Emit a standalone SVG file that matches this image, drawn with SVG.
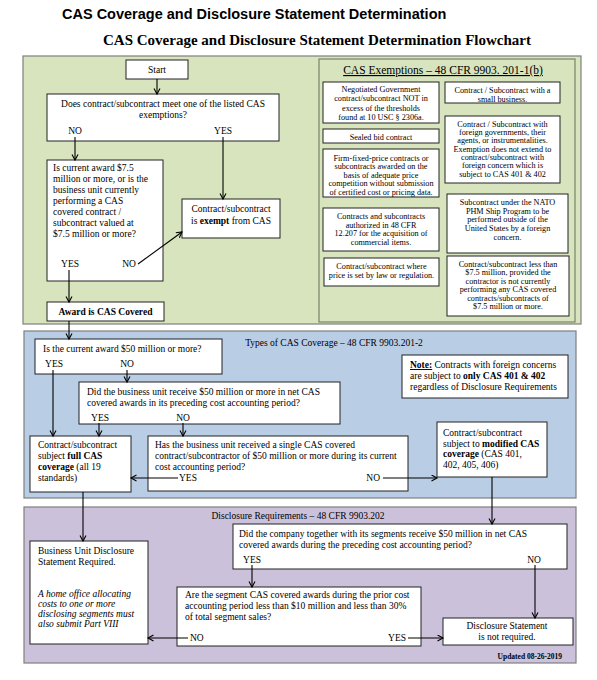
<svg xmlns="http://www.w3.org/2000/svg" width="597" height="680" viewBox="0 0 597 680">
<defs>
<marker id="arr" markerUnits="userSpaceOnUse" markerWidth="8" markerHeight="8" refX="6" refY="3.5" orient="auto">
<path d="M0.5,0.5 L6,3.5 L0.5,6.5" fill="none" stroke="#000" stroke-width="1.1"/>
</marker>
<style>
.t1{font-family:"Liberation Sans",Arial,sans-serif;font-weight:bold;font-size:14.5px;fill:#000}
.t2{font-family:"Liberation Serif","Times New Roman",serif;font-weight:bold;font-size:15px;fill:#000}
.tx{font-family:"Liberation Serif","Times New Roman",serif;font-size:9.5px;fill:#000}
.ex{font-family:"Liberation Serif","Times New Roman",serif;font-size:8.2px;fill:#000;text-anchor:middle}
.c{text-anchor:middle}
.e{text-anchor:end}
.b{font-weight:bold}
.i{font-style:italic}
.box{fill:#fff;stroke:#222;stroke-width:1}
.green{fill:#d7e4bd;stroke:#7f7f7f;stroke-width:1.2}
.inner{fill:#d7e4bd;stroke:#7a8468;stroke-width:1.2}
.blue{fill:#b9cde5;stroke:#7f7f7f;stroke-width:1.2}
.purple{fill:#ccc1da;stroke:#7f7f7f;stroke-width:1.2}
.con{fill:none;stroke:#000;stroke-width:1.1;marker-end:url(#arr)}
</style>
</defs>
<rect width="597" height="680" fill="#fff"/>
<text class="t1" x="62" y="19">CAS Coverage and Disclosure Statement Determination</text>
<text class="t2 c" x="317" y="45">CAS Coverage and Disclosure Statement Determination Flowchart</text>

<g id="panel-green"><rect class="green" x="23" y="56" width="558" height="268"/></g>
<g id="panel-exemptions">
<rect class="inner" x="319" y="59" width="256" height="263"/>
<text class="tx c" x="443" y="74" style="font-size:11.5px" text-decoration="underline">CAS Exemptions – 48 CFR 9903. 201-1(b)</text>
</g>
<g id="panel-blue">
<rect class="blue" x="24" y="331" width="552" height="167"/>
<text class="tx c" x="334" y="346">Types of CAS Coverage – 48 CFR 9903.201-2</text>
</g>
<g id="panel-purple">
<rect class="purple" x="24" y="507" width="552" height="156"/>
<text class="tx c" x="298" y="519">Disclosure Requirements – 48 CFR 9903.202</text>
<text class="tx e b" x="562" y="659" style="font-size:7.5px">Updated 08-26-2019</text>
</g>

<g id="start"><rect class="box" x="126" y="60" width="62" height="19"/><text class="tx c" x="157" y="73">Start</text></g>
<g id="q1">
<rect class="box" x="47" y="94" width="232" height="47"/>
<text class="tx c" x="163" y="107">Does contract/subcontract meet one of the listed CAS</text>
<text class="tx c" x="163" y="118">exemptions?</text>
<text class="tx c" x="75" y="134">NO</text>
<text class="tx c" x="223" y="134">YES</text>
</g>
<g id="q2">
<rect class="box" x="47" y="160" width="116" height="121"/>
<text class="tx" x="53" y="171">Is current award $7.5</text>
<text class="tx" x="53" y="182">million or more, or is the</text>
<text class="tx" x="53" y="193">business unit currently</text>
<text class="tx" x="53" y="204">performing a CAS</text>
<text class="tx" x="53" y="215">covered contract /</text>
<text class="tx" x="53" y="226">subcontract valued at</text>
<text class="tx" x="53" y="237">$7.5 million or more?</text>
<text class="tx c" x="70" y="267">YES</text>
<text class="tx c" x="129" y="267">NO</text>
</g>
<g id="exempt">
<rect class="box" x="182" y="199" width="98" height="39"/>
<text class="tx c" x="231" y="212">Contract/subcontract</text>
<text class="tx c" x="231" y="224">is <tspan class="b">exempt</tspan> from CAS</text>
</g>
<g id="award">
<rect class="box" x="47" y="302" width="117" height="19"/>
<text class="tx c b" x="105.5" y="315">Award is CAS Covered</text>
</g>

<g id="ex-negotiated">
<rect class="box" x="323" y="82" width="116" height="41"/>
<text class="ex" x="381" y="91.5">Negotiated Government</text>
<text class="ex" x="381" y="101">contract/subcontract NOT in</text>
<text class="ex" x="381" y="110.5">excess of the thresholds</text>
<text class="ex" x="381" y="120">found at 10 USC § 2306a.</text>
</g>
<g id="ex-small">
<rect class="box" x="445" y="82" width="115" height="21"/>
<text class="ex" x="502.5" y="93">Contract / Subcontract with a</text>
<text class="ex" x="502.5" y="101.5">small business.</text>
</g>
<g id="ex-sealed">
<rect class="box" x="323" y="129" width="116" height="14"/>
<text class="ex" x="381" y="139.5">Sealed bid contract</text>
</g>
<g id="ex-ffp">
<rect class="box" x="323" y="149" width="116" height="48"/>
<text class="ex" x="381" y="160.5">Firm-fixed-price contracts or</text>
<text class="ex" x="381" y="169.1">subcontracts awarded on the</text>
<text class="ex" x="381" y="177.7">basis of adequate price</text>
<text class="ex" x="381" y="186.3">competition without submission</text>
<text class="ex" x="381" y="194.9">of certified cost or pricing data.</text>
</g>
<g id="ex-foreign">
<rect class="box" x="445" y="116" width="115" height="67"/>
<text class="ex" x="502.5" y="126.8">Contract / Subcontract with</text>
<text class="ex" x="502.5" y="135.1">foreign governments, their</text>
<text class="ex" x="502.5" y="143.4">agents, or instrumentalities.</text>
<text class="ex" x="502.5" y="151.7">Exemption does not extend to</text>
<text class="ex" x="502.5" y="160">contract/subcontract with</text>
<text class="ex" x="502.5" y="168.3">foreign concern which is</text>
<text class="ex" x="502.5" y="176.6">subject to CAS 401 &amp; 402</text>
</g>
<g id="ex-commercial">
<rect class="box" x="323" y="208" width="116" height="43"/>
<text class="ex" x="381" y="218.8">Contracts and subcontracts</text>
<text class="ex" x="381" y="227.5">authorized in 48 CFR</text>
<text class="ex" x="381" y="236.2">12.207 for the acquisition of</text>
<text class="ex" x="381" y="244.9">commercial items.</text>
</g>
<g id="ex-law">
<rect class="box" x="324" y="258" width="115" height="28"/>
<text class="ex" x="381.5" y="268.8">Contract/subcontract where</text>
<text class="ex" x="381.5" y="277.8">price is set by law or regulation.</text>
</g>
<g id="ex-nato">
<rect class="box" x="447" y="194" width="121" height="59"/>
<text class="ex" x="507.5" y="204.8">Subcontract under the NATO</text>
<text class="ex" x="507.5" y="213.5">PHM Ship Program to be</text>
<text class="ex" x="507.5" y="222.2">performed outside of the</text>
<text class="ex" x="507.5" y="230.9">United States by a foreign</text>
<text class="ex" x="507.5" y="239.6">concern.</text>
</g>
<g id="ex-less">
<rect class="box" x="447" y="256" width="122" height="60"/>
<text class="ex" x="508" y="266.8">Contract/subcontract less than</text>
<text class="ex" x="508" y="275.3">$7.5 million, provided the</text>
<text class="ex" x="508" y="283.8">contractor is not currently</text>
<text class="ex" x="508" y="292.3">performing any CAS covered</text>
<text class="ex" x="508" y="300.8">contracts/subcontracts of</text>
<text class="ex" x="508" y="309.3">$7.5 million or more.</text>
</g>

<g id="q3">
<rect class="box" x="35" y="339" width="187" height="35"/>
<text class="tx" x="43" y="352">Is the current award $50 million or more?</text>
<text class="tx c" x="54" y="367">YES</text>
<text class="tx c" x="127" y="367">NO</text>
</g>
<g id="q4">
<rect class="box" x="79" y="382" width="261" height="42"/>
<text class="tx" x="87" y="395">Did the business unit receive $50 million or more in net CAS</text>
<text class="tx" x="87" y="405.5">covered awards in its preceding cost accounting period?</text>
<text class="tx c" x="100" y="421">YES</text>
<text class="tx c" x="183" y="421">NO</text>
</g>
<g id="full">
<rect class="box" x="30" y="436" width="101" height="56"/>
<text class="tx" x="38" y="448">Contract/subcontract</text>
<text class="tx" x="38" y="459">subject <tspan class="b">full CAS</tspan></text>
<text class="tx" x="38" y="470"><tspan class="b">coverage</tspan> (all 19</text>
<text class="tx" x="38" y="481">standards)</text>
</g>
<g id="q5">
<rect class="box" x="148" y="436" width="260" height="55"/>
<text class="tx" x="155" y="448">Has the business unit received a single CAS covered</text>
<text class="tx" x="155" y="459">contract/subcontractor of $50 million or more during its current</text>
<text class="tx" x="155" y="470">cost accounting period?</text>
<text class="tx" x="179" y="481">YES</text>
<text class="tx e" x="380" y="481">NO</text>
</g>
<g id="modified">
<rect class="box" x="437" y="422" width="110" height="55"/>
<text class="tx" x="443" y="436">Contract/subcontract</text>
<text class="tx" x="443" y="446.5">subject to <tspan class="b">modified CAS</tspan></text>
<text class="tx" x="443" y="457"><tspan class="b">coverage</tspan> (CAS 401,</text>
<text class="tx" x="443" y="467.5">402, 405, 406)</text>
</g>
<g id="note">
<rect class="box" x="402" y="355" width="166" height="43"/>
<text class="tx" x="410" y="368"><tspan class="b" text-decoration="underline">Note:</tspan> Contracts with foreign concerns</text>
<text class="tx" x="410" y="379">are subject to <tspan class="b">only CAS 401 &amp; 402</tspan></text>
<text class="tx" x="410" y="389.5">regardless of Disclosure Requirements</text>
</g>

<g id="q6">
<rect class="box" x="233" y="524" width="334" height="45"/>
<text class="tx" x="239" y="537">Did the company together with its segments receive $50 million in net CAS</text>
<text class="tx" x="239" y="548">covered awards during the preceding cost accounting period?</text>
<text class="tx c" x="252" y="563">YES</text>
<text class="tx c" x="534" y="563">NO</text>
</g>
<g id="q7">
<rect class="box" x="177" y="587" width="244" height="59"/>
<text class="tx" x="185" y="597.5">Are the segment CAS covered awards during the prior cost</text>
<text class="tx" x="185" y="608.5">accounting period less than $10 million and less than 30%</text>
<text class="tx" x="185" y="619.5">of total segment sales?</text>
<text class="tx" x="190" y="641">NO</text>
<text class="tx e" x="406" y="641">YES</text>
</g>
<g id="bu">
<rect class="box" x="30" y="541" width="118" height="103"/>
<text class="tx" x="38" y="554">Business Unit Disclosure</text>
<text class="tx" x="38" y="564.5">Statement Required.</text>
<text class="tx i" x="38" y="597">A home office allocating</text>
<text class="tx i" x="38" y="607">costs to one or more</text>
<text class="tx i" x="38" y="617">disclosing segments must</text>
<text class="tx i" x="38" y="627">also submit Part VIII</text>
</g>
<g id="notreq">
<rect class="box" x="443" y="618" width="130" height="27"/>
<text class="tx c" x="507" y="629">Disclosure Statement</text>
<text class="tx c" x="507" y="639.5">is not required.</text>
</g>

<g id="connectors">
<path class="con" d="M157,79 V94"/>
<path class="con" d="M75,137 V160"/>
<path class="con" d="M223,137 V199"/>
<path class="con" d="M138,264 L182,232"/>
<path class="con" d="M69,270 V302"/>
<path class="con" d="M69,321 V339"/>
<path class="con" d="M53,370 V436"/>
<path class="con" d="M127,370 V382"/>
<path class="con" d="M99,423 V436"/>
<path class="con" d="M183,423 V436"/>
<path class="con" d="M178,478 H131"/>
<path class="con" d="M383,478 H437"/>
<path class="con" d="M83,492 V541"/>
<path class="con" d="M492,477 V524"/>
<path class="con" d="M252,565 V587"/>
<path class="con" d="M535,565 V618"/>
<path class="con" d="M188,638 H148"/>
<path class="con" d="M408,638 H443"/>
</g>
</svg>
